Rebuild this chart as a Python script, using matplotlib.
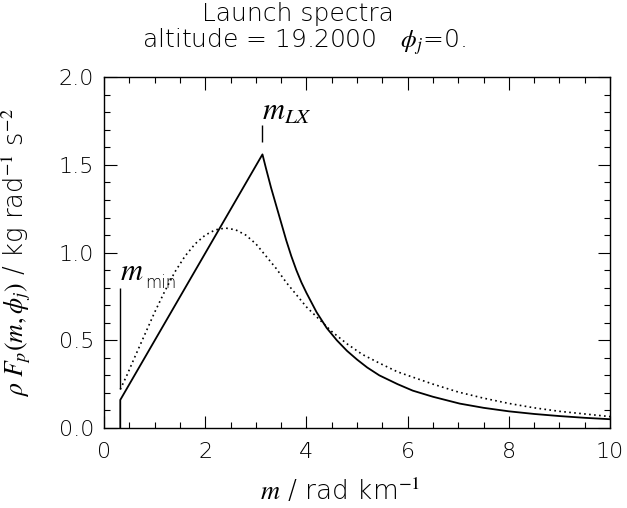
import numpy as np
import matplotlib
matplotlib.use("Agg")
import matplotlib.pyplot as plt
from matplotlib.ticker import MultipleLocator

plt.rcParams['font.family'] = ['DejaVu Sans']
plt.rcParams['font.weight'] = 200
plt.rcParams['axes.labelweight'] = 200
plt.rcParams['mathtext.fontset'] = 'stix'

# Launch spectrum (solid)
m_launch = [0.32, 0.32, 3.13, 3.20, 3.30, 3.40, 3.50, 3.60, 3.70, 3.80, 3.90,
            4.00, 4.20, 4.40, 4.60, 4.80, 5.00, 5.20, 5.44, 5.80, 6.10, 6.50,
            7.03, 7.50, 8.00, 8.50, 9.00, 9.50, 10.0]
F_launch = [0.0, 0.16, 1.56, 1.48, 1.37, 1.27, 1.17, 1.07, 0.98, 0.90, 0.83,
            0.77, 0.66, 0.57, 0.50, 0.44, 0.39, 0.345, 0.30, 0.25, 0.213, 0.178,
            0.139, 0.115, 0.095, 0.080, 0.068, 0.058, 0.050]

# Smooth reference spectrum (dotted)
m_smooth = [0.32, 0.45, 0.60, 0.80, 1.00, 1.20, 1.40, 1.60, 1.80, 2.00, 2.20,
            2.40, 2.60, 2.80, 3.00, 3.20, 3.40, 3.60, 3.80, 4.00, 4.25, 4.50,
            4.80, 5.10, 5.44, 5.80, 6.10, 6.50, 7.00, 7.50, 8.00, 8.50, 9.00,
            9.50, 10.0]
F_smooth = [0.22, 0.30, 0.40, 0.53, 0.66, 0.78, 0.89, 0.98, 1.05, 1.10, 1.13,
            1.14, 1.13, 1.10, 1.05, 0.98, 0.91, 0.83, 0.76, 0.69, 0.62, 0.55,
            0.48, 0.42, 0.37, 0.32, 0.29, 0.25, 0.205, 0.17, 0.14, 0.115, 0.095,
            0.08, 0.065]

m_min = 0.32
m_min_line = [0.22, 0.80]
m_LX = 3.13
m_LX_line = [1.63, 1.73]

fig = plt.figure(figsize=(6.27, 5.08), dpi=100)
ax = fig.add_axes([0.166, 0.1575, 0.807, 0.6905])

ax.plot(m_launch, F_launch, color='black', lw=1.3)
ax.plot(m_smooth, F_smooth, color='black', lw=1.2, linestyle=(0, (1, 2)))
ax.vlines(m_min, m_min_line[0], m_min_line[1], color='black', lw=1.0)
ax.vlines(m_LX, m_LX_line[0], m_LX_line[1], color='black', lw=1.0)

ax.text(m_min, 0.845, r'$m$', fontsize=22, ha='left', va='baseline')
ax.text(m_min + 0.5, 0.80, 'min', fontsize=12, ha='left', va='baseline')
ax.text(m_LX, 1.76, r'$m_{LX}$', fontsize=22, ha='left', va='baseline')

ax.set_xlim(0, 10)
ax.set_ylim(0, 2.0)
ax.xaxis.set_major_locator(MultipleLocator(2))
ax.xaxis.set_minor_locator(MultipleLocator(0.5))
ax.yaxis.set_major_locator(MultipleLocator(0.5))
ax.yaxis.set_minor_locator(MultipleLocator(0.1))
ax.xaxis.set_major_formatter(plt.FuncFormatter(lambda v, p: f"{v:.0f}"))
ax.yaxis.set_major_formatter(plt.FuncFormatter(lambda v, p: f"{v:.1f}"))
ax.tick_params(which='both', direction='in', top=True, right=True,
               labelsize=16, width=0.8, colors='black')
ax.tick_params(which='major', length=9)
ax.tick_params(axis='x', which='major', pad=10)
ax.tick_params(axis='y', which='major', pad=7)
ax.tick_params(which='minor', length=4.5)
for s in ax.spines.values():
    s.set_linewidth(1.0)

ax.set_xlabel(r'$m$ / rad km$^{-1}$', fontsize=19, fontweight=200)
ax.xaxis.set_label_coords(0.466, -0.14)
ax.set_ylabel(r'$\rho\ F_p(m,\phi_j)$ / kg rad$^{-1}$ s$^{-2}$', fontsize=18.5,
              fontweight=200)
ax.yaxis.set_label_coords(-0.14, 0.5)

fig.text(0.475, 0.959, 'Launch spectra', fontsize=18, ha='center', va='baseline')
fig.text(0.484, 0.906, r'altitude = 19.2000   $\phi_j$=0.', fontsize=18,
         ha='center', va='baseline')

fig.savefig('out.png', dpi=100)
